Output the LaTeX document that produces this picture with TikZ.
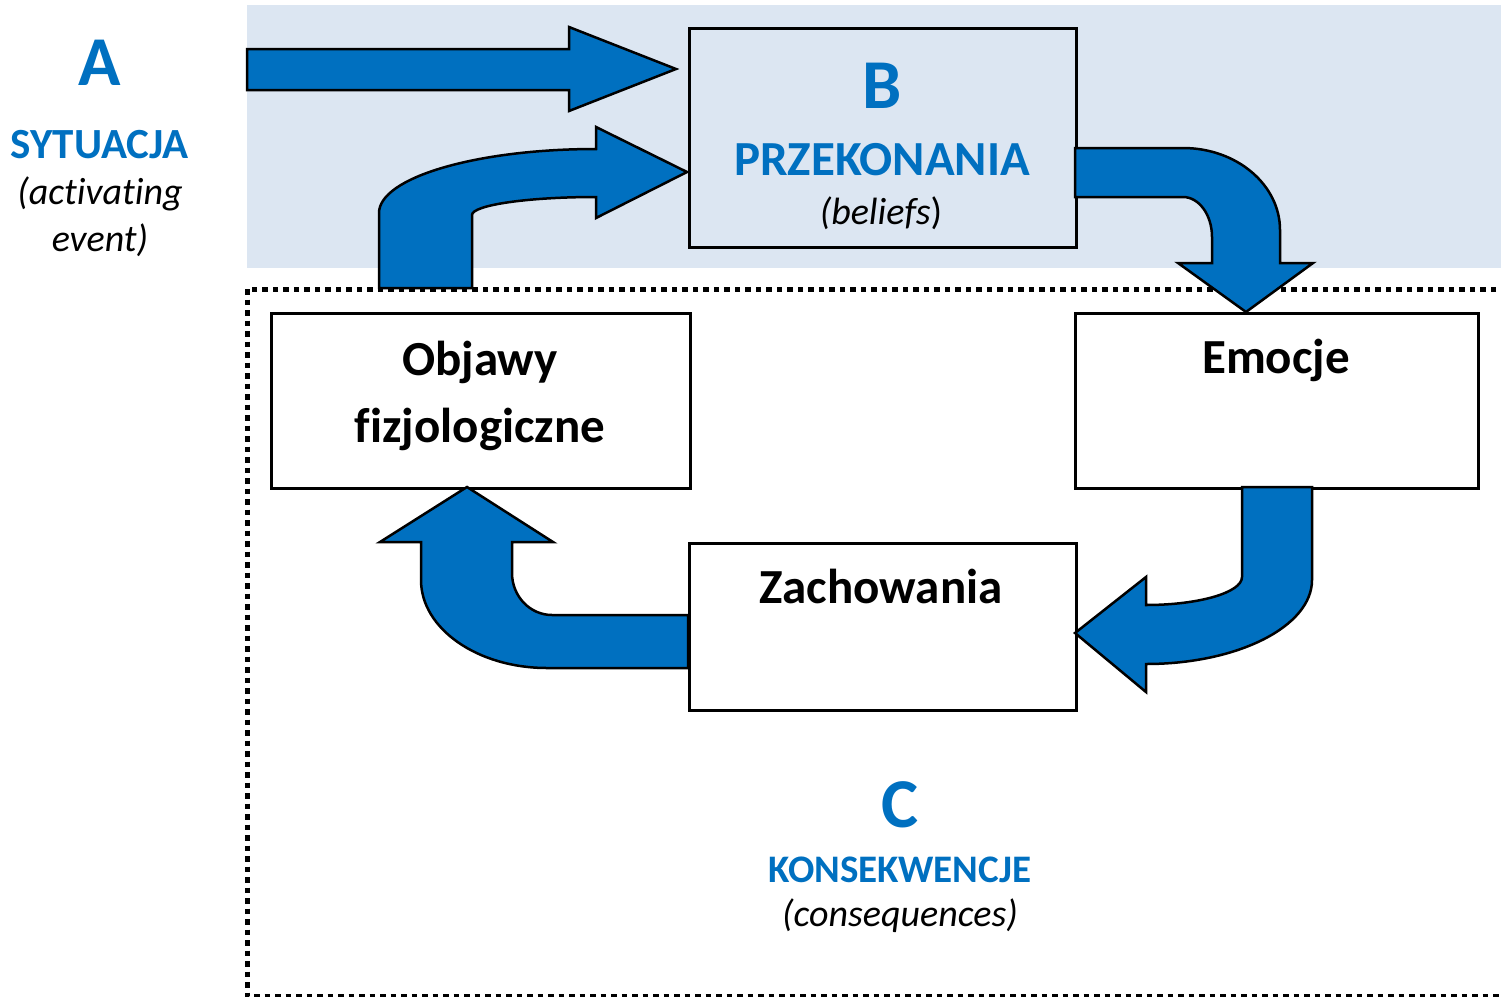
\documentclass[tikz,border=0pt]{standalone}
\usepackage{fontspec}
\setmainfont{Carlito}[Ligatures=NoCommon]
\definecolor{arrowblue}{HTML}{0070C0}
\definecolor{bandblue}{HTML}{DCE6F2}

\begin{document}
\begin{tikzpicture}[x=1pt,y=-1pt,
  blockarrow/.style={fill=arrowblue,draw=black,line width=2.5pt,line join=miter},
  stagebox/.style={draw=black,line width=2.5pt,inner sep=0pt,anchor=north west},
  bigletter/.style={font=\fontsize{70}{84}\selectfont\bfseries,text=arrowblue,anchor=base,inner sep=0pt},
  bluehead/.style={font=\fontsize{#1}{#1}\selectfont\bfseries,text=arrowblue,anchor=base,inner sep=0pt},
  note/.style={font=\fontsize{#1}{#1}\selectfont\itshape,anchor=base,inner sep=0pt},
  boxlabel/.style={font=\fontsize{49}{49}\selectfont\bfseries,anchor=base,inner sep=0pt}
]
\useasboundingbox (0,0) rectangle (1501,996);
\clip (0,0) rectangle (1501,996);

% shaded band of the beliefs stage
\fill[bandblue] (247,5) rectangle (1501,268);

% dotted frame of the consequences stage
\draw[line width=5pt,dash pattern=on 5.5pt off 5pt] (247,289) rectangle (1540,996);

% stage boxes
\node[stagebox,fill=bandblue,minimum width=387pt,minimum height=219pt] (bel) at (688,27) {};
\node[stagebox,fill=white,minimum width=419pt,minimum height=175pt] (obj) at (270,312) {};
\node[stagebox,fill=white,minimum width=403pt,minimum height=175pt] (emo) at (1074,312) {};
\node[stagebox,fill=white,minimum width=387pt,minimum height=167pt] (zach) at (688,542) {};

% situation -> beliefs
\draw[blockarrow] (247,49) -- (569,49) -- (569,27) -- (676,69) -- (569,111)
  -- (569,90) -- (247,90) -- cycle;

% physiological symptoms -> beliefs
\draw[blockarrow] (379,288) -- (379,213)
  .. controls (379,177.7) and (476.2,149) .. (596,149)
  -- (596,127) -- (687,172) -- (596,218) -- (596,197)
  .. controls (527.5,197) and (472,205.1) .. (472,215)
  -- (472,288) -- cycle;

% beliefs -> emotions
\draw[blockarrow] (1075,148) -- (1183,148)
  .. controls (1236.6,148) and (1280,184.7) .. (1280,230)
  -- (1280,263) -- (1313,263) -- (1246,312) -- (1178,263) -- (1212,263)
  -- (1212,237)
  .. controls (1212,214.9) and (1199,197) .. (1183,197)
  -- (1075,197) -- cycle;

% emotions -> behaviour
\draw[blockarrow] (1242,487) -- (1312,487) -- (1312,580)
  .. controls (1312,626.4) and (1237.7,664) .. (1146,664)
  -- (1146,692) -- (1075,633) -- (1146,577) -- (1146,605)
  .. controls (1199,605) and (1242,592.5) .. (1242,577)
  -- cycle;

% behaviour -> physiological symptoms
\draw[blockarrow] (688,615) -- (552,615)
  .. controls (529.9,615) and (512,596.2) .. (512,573)
  -- (512,542) -- (553,542) -- (467,487) -- (380,542) -- (421,542)
  -- (421,580)
  .. controls (421,628.6) and (477.4,668) .. (547,668)
  -- (688,668) -- cycle;

% column A
\node[bigletter] (la) at (100,85) {A};
\node[bluehead=43] (sit) at (100,158) {SYTUACJA};
\node[note=38] (act1) at (100,204) {(activating};
\node[note=38] (act2) at (100,251) {event)};

% column B
\node[bigletter] (lb) at (882,108) {B};
\node[bluehead=49] (prz) at (882,175) {PRZEKONANIA};
\node[note=38] (blf) at (881,224) {(\textit{beliefs}\/\upshape)};

% box labels
\node[boxlabel] (t1) at (480,375) {Objawy};
\node[boxlabel] (t2) at (480,442) {fizjologiczne};
\node[boxlabel] (t3) at (1276,373) {Emocje};
\node[boxlabel] (t4) at (881,603) {Zachowania};

% column C
\node[bigletter] (lc) at (900,827) {C};
\node[bluehead=39] (kon) at (900,882) {KONSEKWENCJE};
\node[note=38] (cons) at (900,926) {(consequences)};
\end{tikzpicture}
\end{document}
